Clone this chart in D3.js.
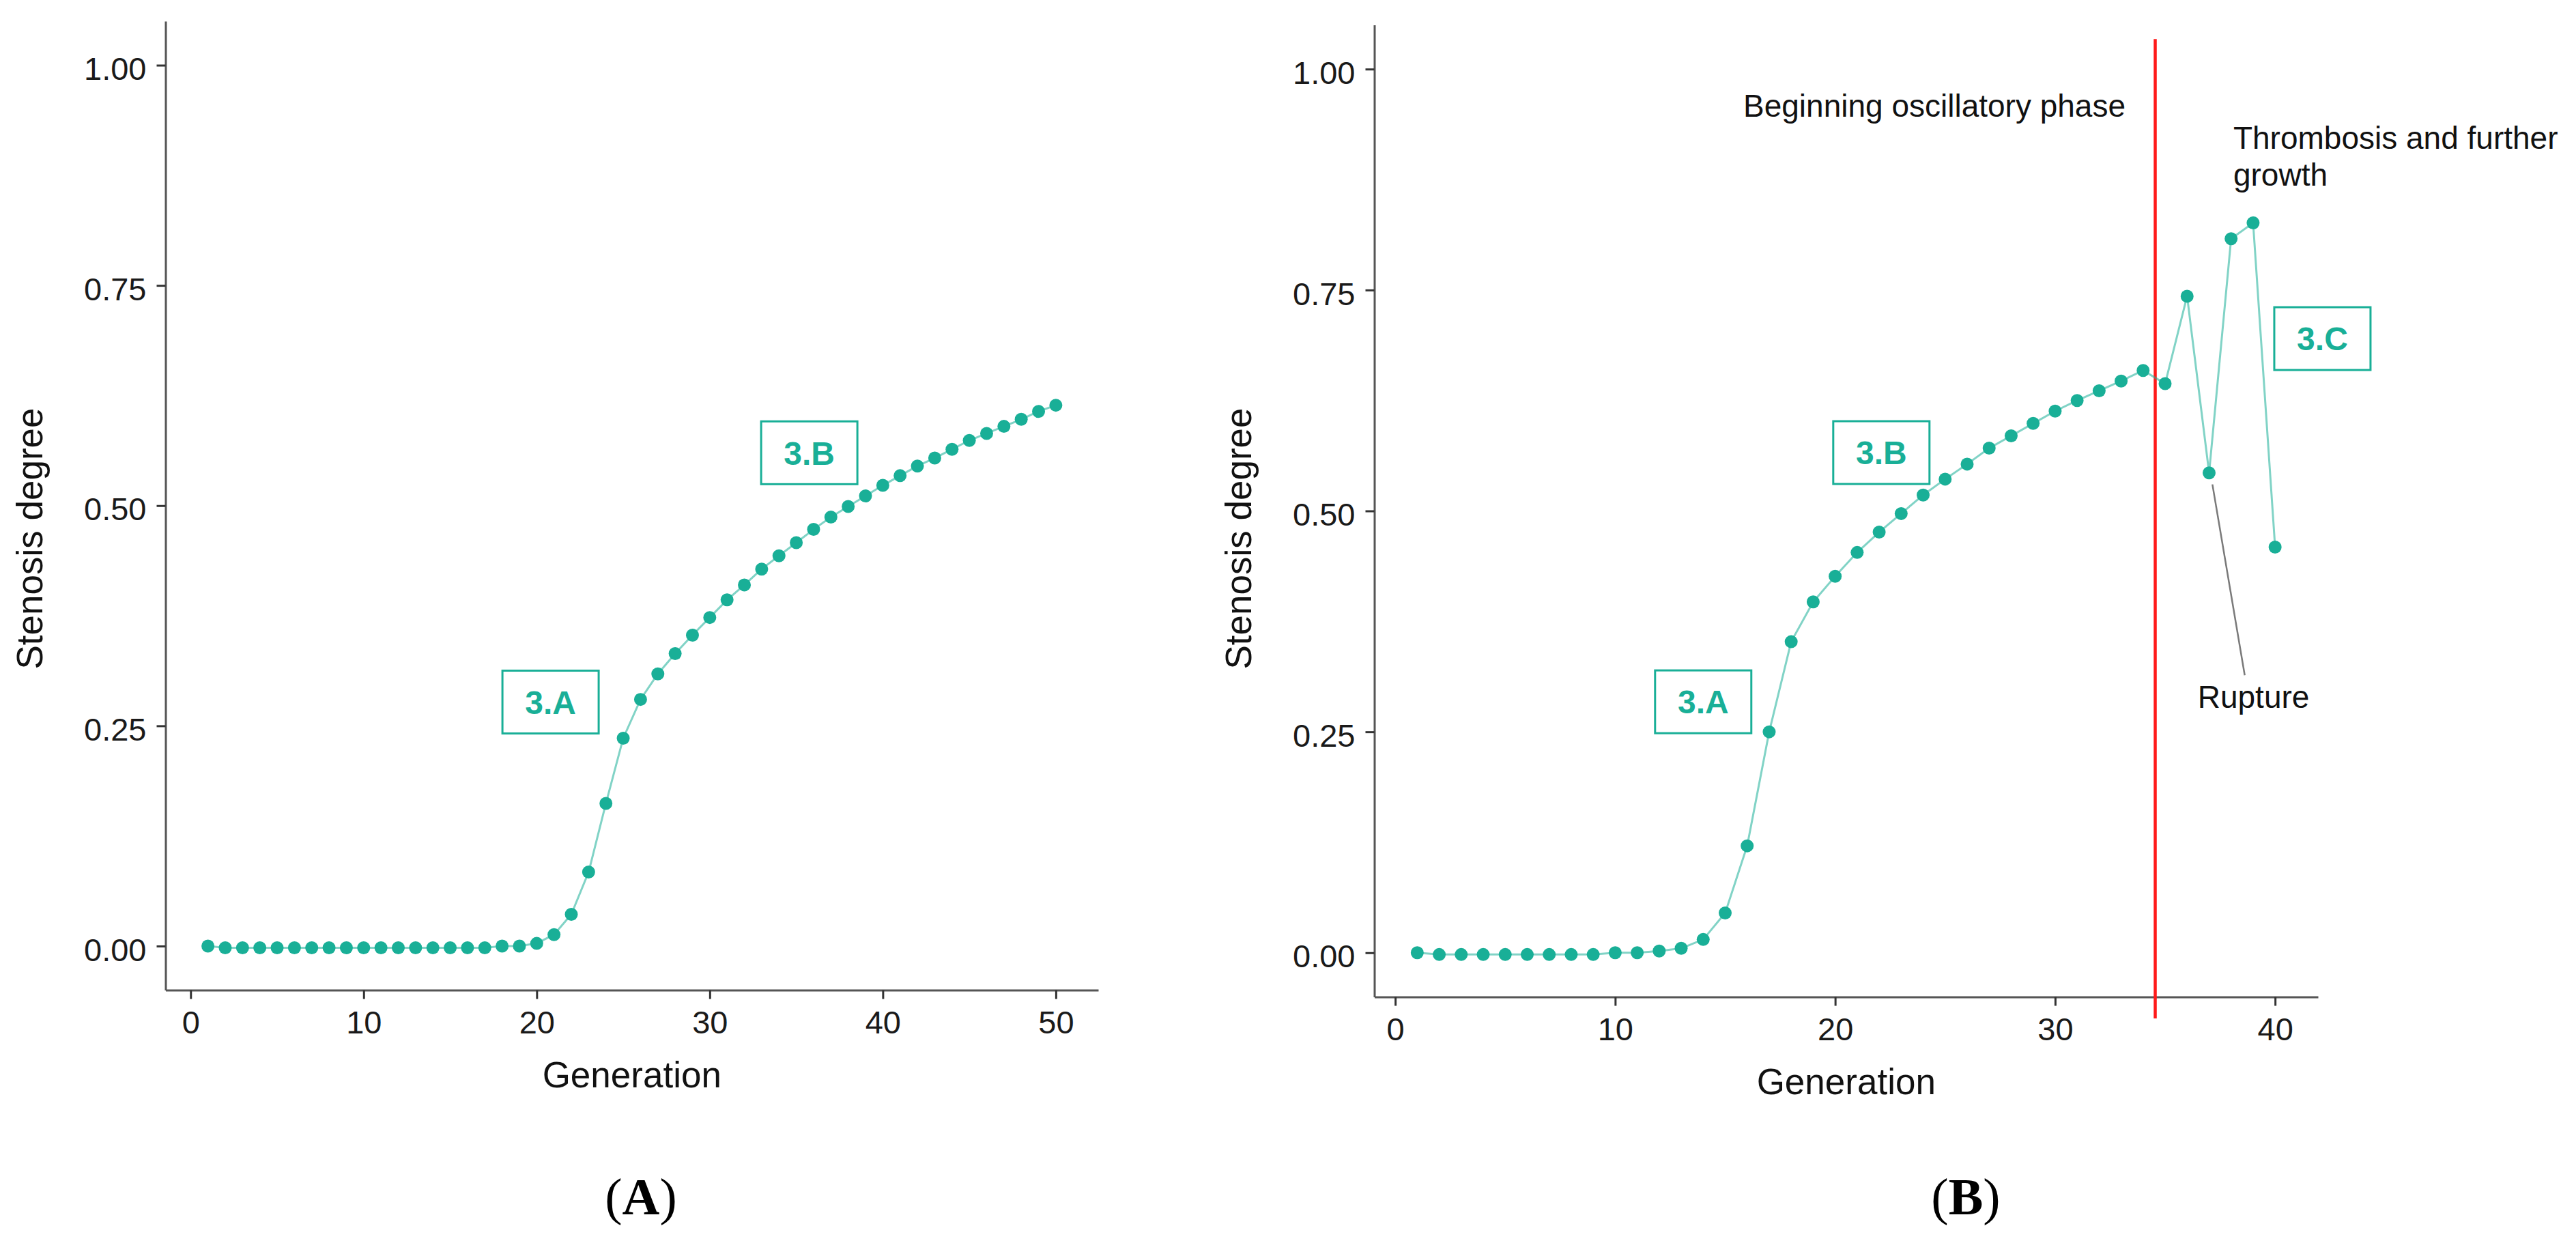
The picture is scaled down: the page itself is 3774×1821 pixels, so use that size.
<!DOCTYPE html>
<html>
<head>
<meta charset="utf-8">
<script src="https://cdn.jsdelivr.net/npm/d3@7/dist/d3.min.js"></script>
<style>
  body { margin: 0; background: #fff; }
  svg { display: block; }
  text { font-family: "Liberation Sans", Arial, sans-serif; }
</style>
</head>
<body>
<script>
"use strict";

// Panel A: stenosis degree per generation (1..50)
var leftValues = [0.000, -0.002, -0.002, -0.002, -0.002, -0.002, -0.002, -0.002, -0.002, -0.002,
  -0.002, -0.002, -0.002, -0.002, -0.002, -0.002, -0.002, 0.000, 0.000, 0.003,
  0.013, 0.036, 0.084, 0.162, 0.236, 0.280, 0.309, 0.332, 0.353, 0.373,
  0.393, 0.410, 0.428, 0.443, 0.458, 0.473, 0.487, 0.499, 0.511, 0.523,
  0.534, 0.545, 0.554, 0.564, 0.574, 0.582, 0.590, 0.598, 0.607, 0.614];

// Panel B: stenosis degree per generation (1..40)
var rightValues = [0.000, -0.002, -0.002, -0.002, -0.002, -0.002, -0.002, -0.002, -0.002, 0.000,
  0.000, 0.002, 0.005, 0.015, 0.045, 0.121, 0.250, 0.352, 0.397, 0.426,
  0.453, 0.476, 0.497, 0.518, 0.536, 0.553, 0.571, 0.585, 0.599, 0.613,
  0.625, 0.636, 0.647, 0.659, 0.644, 0.743, 0.543, 0.808, 0.826, 0.459];

var yTicks = [0, 0.25, 0.5, 0.75, 1];
var leftXTicks = [0, 10, 20, 30, 40, 50];
var rightXTicks = [0, 10, 20, 30, 40];

// phase boxes (in data units)
var leftBoxes = [{ label: "3.A", gen: 20.8, value: 0.277 }, { label: "3.B", gen: 35.75, value: 0.56 }];
var rightBoxes = [{ label: "3.A", gen: 14.0, value: 0.284 }, { label: "3.B", gen: 22.1, value: 0.566 }, { label: "3.C", gen: 42.15, value: 0.695 }];

var phaseGen = 34.55;
var notes = [
  { text: "Beginning oscillatory phase", gen: 33.2, value: 0.946, anchor: "end" },
  { text: "Thrombosis and further", gen: 38.1, value: 0.910, anchor: "start" },
  { text: "growth", gen: 38.1, value: 0.868, anchor: "start" },
  { text: "Rupture", gen: 36.48, value: 0.277, anchor: "start" }
];
var ruptureLeader = [{ gen: 37.15, value: 0.530 }, { gen: 38.62, value: 0.314 }];

var teal = "#19af97";

var svg = d3.select("body").append("svg")
  .attr("width", 3774).attr("height", 1821);

function drawPanel(values, xTicks, boxes, opt) {
  var n = values.length;
  var pad = 0.05 * (n - 1);
  var x = d3.scaleLinear().domain([1 - pad, n + pad]).range([opt.left, opt.right]);
  var y = d3.scaleLinear().domain([-0.05, 1.05]).range([opt.bottom, opt.top]);
  var g = svg.append("g");

  //Axes
  var xAxis = d3.axisBottom(x).tickValues(xTicks).tickSize(13).tickSizeOuter(0).tickPadding(17);
  var yAxis = d3.axisLeft(y).tickValues(yTicks).tickSize(13).tickSizeOuter(0).tickPadding(15)
    .tickFormat(d3.format(".2f"));

  var gx = g.append("g").attr("transform", "translate(0," + opt.bottom + ")").call(xAxis);
  var gy = g.append("g").attr("transform", "translate(" + opt.left + ",0)").call(yAxis);
  [gx, gy].forEach(function (a) {
    a.select(".domain").attr("stroke", "#555").attr("stroke-width", 3);
    a.selectAll(".tick line").attr("stroke", "#333").attr("stroke-width", 3);
    a.selectAll(".tick text").attr("fill", "#1a1a1a").style("font-size", "47px")
      .style("font-family", "Liberation Sans, Arial, sans-serif");
  });
  gy.selectAll(".tick text").attr("dy", "0.45em");

  //Axis titles
  g.append("text").attr("x", (opt.left + opt.right) / 2).attr("y", opt.bottom + 142)
    .attr("text-anchor", "middle").style("font-size", "53px").attr("fill", "#111").text("Generation");
  g.append("text").attr("transform", "translate(" + (opt.left - 181) + ",789) rotate(-90)")
    .attr("text-anchor", "middle").style("font-size", "53px").attr("fill", "#111").text("Stenosis degree");

  //Panel letter
  g.append("text").attr("x", opt.letterX).attr("y", 1779).attr("text-anchor", "middle")
    .style("font-family", "Liberation Serif, Times New Roman, serif").style("font-size", "76px")
    .text("(").append("tspan").style("font-weight", "bold").text(opt.letter)
    .select(function () { return this.parentNode; }).append("tspan").text(")");

  if (opt.extra) opt.extra(g, x, y);

  //Line and points
  var line = d3.line().x(function (d, i) { return x(i + 1); }).y(function (d) { return y(d); });
  g.append("path").datum(values).attr("d", line).attr("fill", "none")
    .attr("stroke", teal).attr("stroke-opacity", 0.55).attr("stroke-width", 3);
  g.selectAll("circle").data(values).enter().append("circle")
    .attr("cx", function (d, i) { return x(i + 1); })
    .attr("cy", function (d) { return y(d); })
    .attr("r", 9.5).attr("fill", teal);

  //Phase boxes
  var bw = 141, bh = 92;
  var b = g.selectAll(".box").data(boxes).enter().append("g").attr("class", "box")
    .attr("transform", function (d) { return "translate(" + x(d.gen) + "," + y(d.value) + ")"; });
  b.append("rect").attr("x", -bw / 2).attr("y", -bh / 2).attr("width", bw).attr("height", bh)
    .attr("fill", "#fff").attr("stroke", teal).attr("stroke-width", 3);
  b.append("text").attr("text-anchor", "middle").attr("dy", "0.36em")
    .style("font-size", "48px").style("font-weight", "bold").attr("fill", teal)
    .text(function (d) { return d.label; });
}

drawPanel(leftValues, leftXTicks, leftBoxes, {
  left: 242.5, right: 1609, top: 31, bottom: 1450.5, letter: "A", letterX: 939
});

drawPanel(rightValues, rightXTicks, rightBoxes, {
  left: 2013.5, right: 3396, top: 36.5, bottom: 1460.5, letter: "B", letterX: 2880,
  extra: function (g, x, y) {
    g.append("line").attr("x1", x(phaseGen)).attr("x2", x(phaseGen))
      .attr("y1", y(1.034)).attr("y2", 1492)
      .attr("stroke", "#ff1a1a").attr("stroke-width", 4.5);
    g.append("line")
      .attr("x1", x(ruptureLeader[0].gen)).attr("y1", y(ruptureLeader[0].value))
      .attr("x2", x(ruptureLeader[1].gen)).attr("y2", y(ruptureLeader[1].value))
      .attr("stroke", "#7a7a7a").attr("stroke-width", 2.5);
    g.selectAll(".note").data(notes).enter().append("text").attr("class", "note")
      .attr("x", function (d) { return x(d.gen); })
      .attr("y", function (d) { return y(d.value); })
      .attr("text-anchor", function (d) { return d.anchor; })
      .style("font-size", "46px").attr("fill", "#111")
      .text(function (d) { return d.text; });
  }
});
</script>
</body>
</html>
